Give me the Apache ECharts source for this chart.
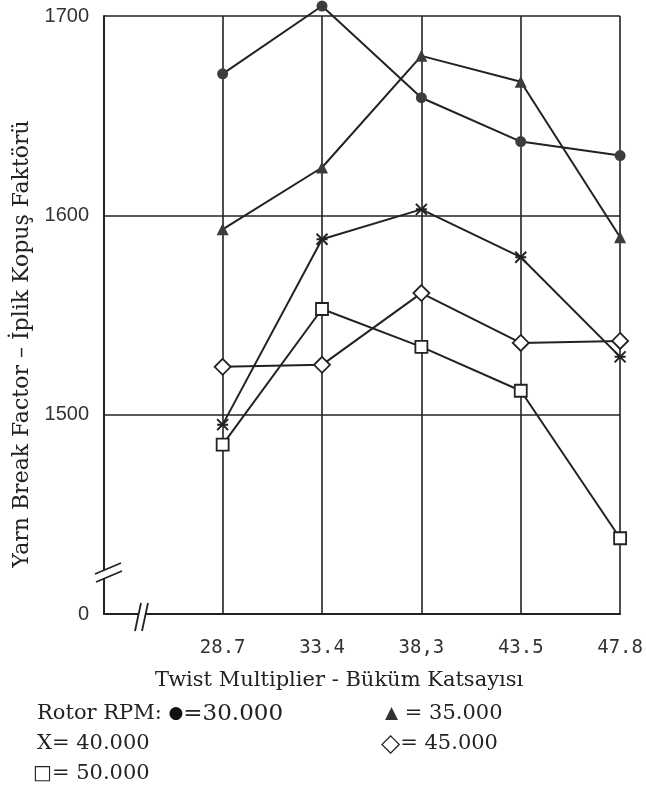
<!DOCTYPE html>
<html><head><meta charset="utf-8">
<script src="https://cdn.jsdelivr.net/npm/echarts@6/dist/echarts.min.js"></script>
<style>html,body{margin:0;padding:0;background:#fff}#c{width:646px;height:791px}</style>
</head><body><div id="c"></div>
<script>
// ---- data ----
const categories = ['28.7', '33.4', '38,3', '43.5', '47.8'];
const rpm30 = [1671, 1705, 1659, 1637, 1630];
const rpm35 = [1593, 1624, 1680, 1667, 1589];
const rpm40 = [1495, 1588, 1603, 1579, 1529];
const rpm45 = [1524, 1525, 1561, 1536, 1537];
const rpm50 = [1485, 1553, 1534, 1512, 1438];
const yTickValues = [1400, 1500, 1600, 1700];
const yTickLabels = ['0', '1500', '1600', '1700'];
const legendPrefix = 'Rotor RPM: ';
const legendSymbols = ['●', '▲', 'X', '◇', '□'];
const legendValues = ['=30.000', ' = 35.000', '= 40.000', '= 45.000', '= 50.000'];
const xTitle = 'Twist Multiplier - Büküm Katsayısı';
const yTitle = 'Yarn Break Factor – İplik Kopuş Faktörü';

// ---- styling ----
const INK = '#222';
const serif = "'DejaVu Serif', serif";
const mono = "'DejaVu Sans Mono', monospace";
const sans = "'Liberation Sans Narrow', 'Liberation Sans', sans-serif";
const catIdx = categories.map((_, i) => i);

const seriesDefs = [
  { name: '30.000', data: rpm30, symbol: 'circle', size: 11, fill: '#3c3c3c', bw: 0 },
  { name: '35.000', data: rpm35, symbol: 'triangle', size: 12, fill: '#3c3c3c', bw: 0 },
  { name: '40.000', data: rpm40, symbol: 'path://M0,0L10,10M10,0L0,10M0,5L10,5', size: 11, fill: INK, bw: 2 },
  { name: '45.000', data: rpm45, symbol: 'diamond', size: 16, fill: '#fff', bw: 1.8 },
  { name: '50.000', data: rpm50, symbol: 'rect', size: 12, fill: '#fff', bw: 1.8 }
];

const chart = echarts.init(document.getElementById('c'), null, { renderer: 'canvas' });

const option = {
  backgroundColor: '#fff',
  animation: false,
  grid: { left: 104, right: 20, top: 16, bottom: 177, containLabel: false },
  xAxis: {
    type: 'value',
    min: -1.194, max: catIdx[catIdx.length - 1],
    axisLine: { show: true, onZero: false, lineStyle: { color: INK, width: 2 } },
    axisTick: { show: false, customValues: catIdx },
    axisLabel: {
      customValues: catIdx,
      formatter: v => categories[Math.round(v)],
      fontFamily: mono, fontSize: 19, color: '#333', margin: 25
    },
    splitLine: { show: true, lineStyle: { color: INK, width: 1.6 } },
    name: xTitle, nameLocation: 'middle', nameGap: 56,
    nameTextStyle: { fontFamily: serif, fontSize: 21, color: INK, padding: [0, 46, 0, 0] }
  },
  yAxis: {
    type: 'value',
    min: yTickValues[0], max: yTickValues[yTickValues.length - 1], interval: 100,
    axisLine: { show: true, onZero: false, lineStyle: { color: INK, width: 2 } },
    axisTick: { show: false },
    axisLabel: {
      formatter: v => { const k = yTickValues.indexOf(v); return k >= 0 ? yTickLabels[k] : ''; },
      fontFamily: sans, fontSize: 20, color: '#333', margin: 15
    },
    splitLine: { show: true, lineStyle: { color: INK, width: 1.6 } },
    name: yTitle, nameLocation: 'middle', nameGap: 71, nameRotate: 90,
    nameTextStyle: { fontFamily: serif, fontSize: 22, color: INK, padding: [0, 58, 0, 0] }
  },
  series: seriesDefs.map((d, k) => ({
    type: 'line',
    name: d.name,
    data: d.data.map((v, i) => [catIdx[i], v]),
    symbol: d.symbol,
    symbolSize: d.size,
    symbolKeepAspect: true,
    showAllSymbol: true,
    clip: false,
    z: 3 + k,
    lineStyle: { color: INK, width: 2 },
    itemStyle: { color: d.fill, borderColor: INK, borderWidth: d.bw },
    emphasis: { disabled: true }
  }))
};
chart.setOption(option);

// ---- decorations: axis break marks and the legend text ----
const legendRows = [
  { x: 37, y: 714, parts: [['p', legendPrefix], ['s', legendSymbols[0]], ['b', legendValues[0]]] },
  { x: 385, y: 714, parts: [['t', legendSymbols[1]], ['v', legendValues[1]]] },
  { x: 37, y: 744, parts: [['v', legendSymbols[2]], ['v', legendValues[2]]] },
  { x: 381, y: 744, parts: [['d', legendSymbols[3]], ['v', legendValues[3]]] },
  { x: 33, y: 774, parts: [['q', legendSymbols[4]], ['v', legendValues[4]]] }
];
const rich = {
  p: { fontFamily: serif, fontSize: 21, fill: INK },
  v: { fontFamily: serif, fontSize: 21, fill: INK },
  b: { fontFamily: serif, fontSize: 23, fill: INK },
  s: { fontFamily: "'DejaVu Sans', sans-serif", fontSize: 17, fill: '#111' },
  t: { fontFamily: "'DejaVu Sans', sans-serif", fontSize: 17, fill: '#333' },
  d: { fontFamily: "'DejaVu Sans', sans-serif", fontSize: 25, fill: INK },
  q: { fontFamily: "'DejaVu Sans', sans-serif", fontSize: 20, fill: INK }
};
const legendGraphics = legendRows.map(r => ({
  type: 'text', x: r.x, y: r.y, silent: true,
  style: {
    text: r.parts.map(([k, t]) => '{' + k + '|' + t + '}').join(''),
    rich: rich, verticalAlign: 'middle', align: 'left'
  }
}));

const breakGraphics = [
  // y-axis break
  { type: 'polygon', shape: { points: [[96, 574], [121, 563], [121, 571], [96, 582]] }, style: { fill: '#fff' }, z: 100 },
  { type: 'line', shape: { x1: 95, y1: 574, x2: 121, y2: 563 }, style: { stroke: INK, lineWidth: 1.8 }, z: 101 },
  { type: 'line', shape: { x1: 96, y1: 582, x2: 122, y2: 571 }, style: { stroke: INK, lineWidth: 1.8 }, z: 101 },
  // x-axis break
  { type: 'polygon', shape: { points: [[139, 610], [146, 610], [146, 618], [139, 618]] }, style: { fill: '#fff' }, z: 100 },
  { type: 'line', shape: { x1: 135, y1: 631, x2: 141, y2: 603 }, style: { stroke: INK, lineWidth: 1.8 }, z: 101 },
  { type: 'line', shape: { x1: 142, y1: 631, x2: 148, y2: 603 }, style: { stroke: INK, lineWidth: 1.8 }, z: 101 }
];

chart.setOption({ graphic: breakGraphics.concat(legendGraphics) });
</script>
</body></html>
